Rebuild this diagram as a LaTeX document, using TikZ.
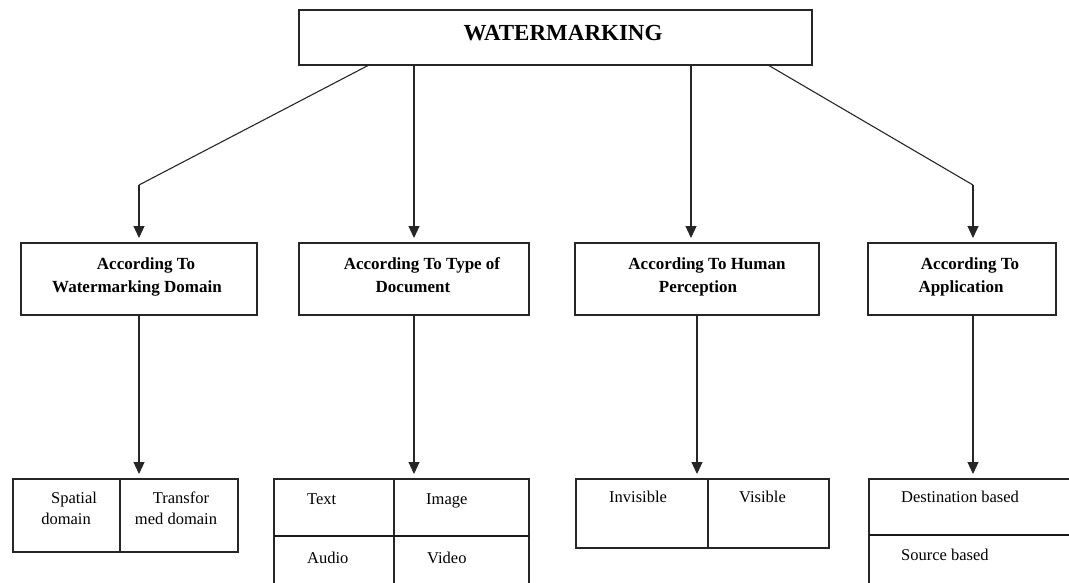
\documentclass[tikz,border=0pt]{standalone}
\usepackage{fontspec}
\setmainfont{Liberation Serif}
\usetikzlibrary{arrows.meta,calc}

\tikzset{
  frame/.style={draw=black!85, line width=1.4pt, inner sep=0pt, outer sep=0pt},
  titletext/.style={font=\fontsize{23}{28}\selectfont\bfseries, inner sep=0pt, anchor=base},
  head/.style={font=\fontsize{17}{23}\selectfont\bfseries, align=center, inner sep=0pt, anchor=north},
  cell/.style={font=\fontsize{16.5}{21}\selectfont, inner sep=0pt},
  link/.style={line width=1.1pt, draw=black!85},
  arrow/.style={link, -{Triangle[length=12pt,width=11pt]}, shorten >=5pt},
  divide/.style={line width=1.2pt, draw=black!85},
  heavydivide/.style={line width=2.8pt, draw=black!90},
}

\begin{document}
\begin{tikzpicture}[x=1pt,y=-1pt]
\useasboundingbox (0,0) rectangle (1069,582);
\clip (0,0) rectangle (1069,582);

% root
\node[frame, minimum width=513pt, minimum height=55pt] (top) at (555.5,37.5) {};
\node[titletext] (title) at (563,40) {WATERMARKING};

% classification criteria
\node[frame, minimum width=236pt, minimum height=72pt] (domain)  at (139,279) {};
\node[frame, minimum width=230pt, minimum height=72pt] (doctype) at (414,279) {};
\node[frame, minimum width=244pt, minimum height=72pt] (percep)  at (697,279) {};
\node[frame, minimum width=188pt, minimum height=72pt] (appl)    at (962,279) {};

\node[head] (domaintxt)  at (137,257.5) {\hspace*{18pt}According To\\Watermarking Domain};
\node[head] (doctypetxt) at (413,257.5) {\hspace*{18pt}According To Type of\\Document};
\node[head] (perceptxt)  at (698,257.5) {\hspace*{18pt}According To Human\\Perception};
\node[head] (appltxt)    at (961,257.5) {\hspace*{18pt}According To\\Application};

% branches from the root
\coordinate (bendL) at (139,185);
\coordinate (bendR) at (973,185);
\draw[link]  ($(top.south west)+(70,0)$) -- (bendL);
\draw[arrow] (bendL) -- (domain.north);
\draw[arrow] (top.south -| doctype.north) -- (doctype.north);
\draw[arrow] ($(top.south west)+(392,0)$) -- ($(percep.north west)+(116,0)$);
\draw[link]  ($(top.south west)+(469,0)$) -- (bendR);
\draw[arrow] (bendR) -- (bendR |- appl.north);

% leaf tables
\node[frame, minimum width=225pt, minimum height=73pt]  (spatial) at (125.5,515.5) {};
\draw[divide] ($(spatial.north west)+(107,0)$) -- ($(spatial.south west)+(107,0)$);

\node[frame, minimum width=255pt, minimum height=141pt] (media) at (401.5,549.5) {};
\draw[divide] ($(media.north west)+(120,0)$) -- ($(media.south west)+(120,0)$);
\draw[heavydivide] ($(media.north west)+(0,57)$) -- ($(media.north east)+(0,57)$);

\node[frame, minimum width=253pt, minimum height=69pt]  (visib) at (702.5,513.5) {};
\draw[divide] ($(visib.north west)+(132,0)$) -- ($(visib.south west)+(132,0)$);

\node[frame, minimum width=241pt, minimum height=141pt] (source) at (989.5,549.5) {};
\draw[heavydivide] ($(source.north west)+(0,56)$) -- ($(source.north east)+(0,56)$);

% branches to the leaves
\draw[arrow] (domain.south)  -- (domain.south |- spatial.north);
\draw[arrow] (doctype.south) -- (doctype.south |- media.north);
\draw[arrow] (percep.south)  -- (percep.south |- visib.north);
\draw[arrow] (bendR |- appl.south) -- (bendR |- source.north);

% leaf labels
\node[cell, align=center, anchor=north] (sptxt) at (66,492)  {\hspace*{16pt}Spatial\\domain};
\node[cell, align=center, anchor=north] (trtxt) at (176,492) {\hspace*{10pt}Transfor\\med domain};

\node[cell, anchor=base west] (text)  at (307,504) {Text};
\node[cell, anchor=base west] (image) at (426,504) {Image};
\node[cell, anchor=base west] (audio) at (307,563) {Audio};
\node[cell, anchor=base west] (video) at (427,563) {Video};

\node[cell, anchor=base west] (invis) at (609,502) {Invisible};
\node[cell, anchor=base west] (vis)   at (739,502) {Visible};

\node[cell, anchor=base west] (dest)  at (901,502) {Destination based};
\node[cell, anchor=base west] (src)   at (901,560) {Source based};
\end{tikzpicture}
\end{document}
